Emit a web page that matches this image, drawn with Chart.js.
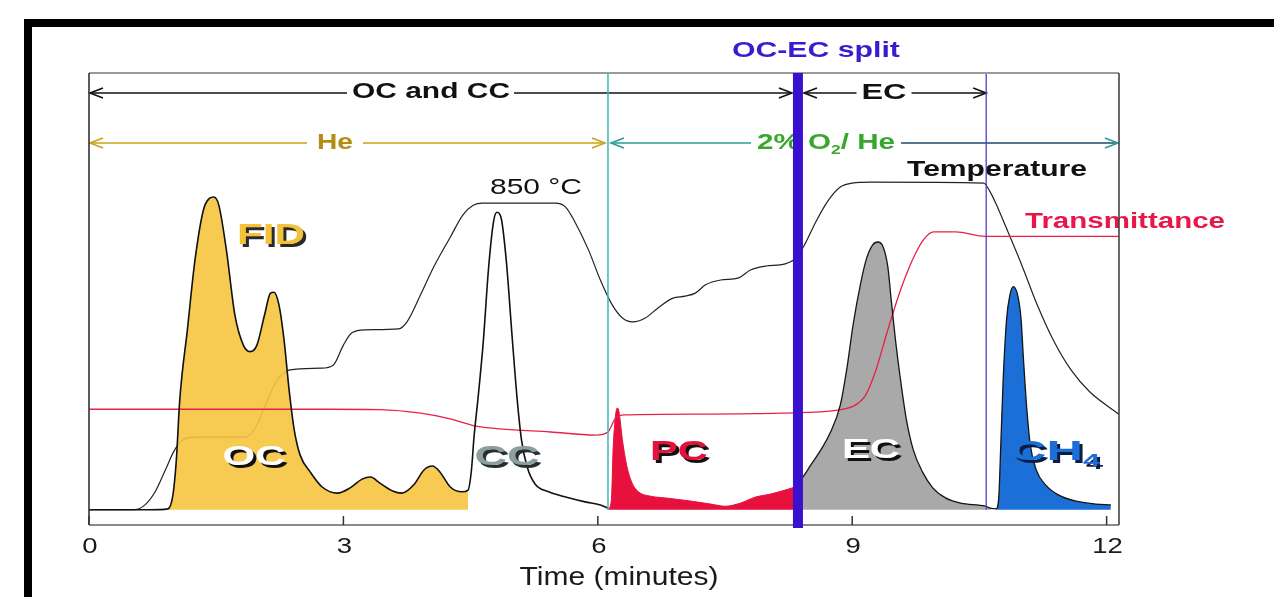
<!DOCTYPE html>
<html><head><meta charset="utf-8">
<script src="https://cdn.jsdelivr.net/npm/chart.js@4.4.1/dist/chart.umd.min.js"></script>
<style>html,body{margin:0;padding:0;background:#fff;}canvas{display:block;}</style>
</head><body>
<canvas id="c" width="1274" height="597"></canvas>
<script>
// ---------------- data (time in minutes, signals in arbitrary units) ----------------
const tickValues = [0, 3, 6, 9, 12];
const tickLabels = ['0', '3', '6', '9', '12'];
const axisTitle = 'Time (minutes)';

// FID signal, OC + CC part (He atmosphere)
const occcTime = [0, 0.72, 0.93, 0.99, 1.03, 1.07, 1.16, 1.25, 1.35, 1.42, 1.47, 1.53, 1.62, 1.72, 1.82, 1.90, 1.98, 2.07, 2.14, 2.18, 2.24, 2.30, 2.36, 2.42, 2.49, 2.61, 2.75, 2.93, 3.08, 3.22, 3.32, 3.43, 3.58, 3.69, 3.83, 3.95, 4.05, 4.14, 4.26, 4.40, 4.47, 4.51, 4.54, 4.59, 4.65, 4.71, 4.77, 4.81, 4.86, 4.92, 4.99, 5.05, 5.10, 5.17, 5.26, 5.42, 5.62, 5.85, 6.03, 6.12];
const occcSignal = [0, 0, 0.2, 3.4, 11.4, 25.1, 41.2, 57.2, 68.7, 71.3, 71.6, 69.8, 59.5, 44.6, 37.7, 36.2, 37.7, 44.6, 49.6, 49.8, 46.9, 38.9, 27.4, 18.3, 12.5, 8.6, 5.2, 3.8, 5.0, 7.0, 7.5, 6.1, 4.3, 3.8, 5.7, 9.1, 10.0, 8.6, 5.2, 4.1, 4.5, 9.1, 16.6, 26.0, 38.6, 54.9, 65.9, 68.1, 66.8, 57.2, 39.5, 25.1, 16.0, 9.6, 5.9, 4.1, 2.9, 1.8, 1.1, 0.4];
const ocStart = 0.93, ocEnd = 4.47;

// FID signal, PC part
const pcTime = [6.12, 6.16, 6.18, 6.21, 6.23, 6.25, 6.29, 6.34, 6.40, 6.48, 6.62, 6.80, 7.09, 7.33, 7.50, 7.68, 7.86, 8.04, 8.21, 8.36];
const pcSignal = [0, 2.2, 13.7, 21.7, 23.3, 22.4, 16.0, 10.2, 6.3, 4.1, 3.1, 2.7, 2.0, 1.3, 0.8, 1.5, 2.9, 3.6, 4.5, 5.4];

// FID signal, EC part
const ecTime = [8.36, 8.41, 8.51, 8.63, 8.74, 8.86, 8.94, 9.01, 9.10, 9.17, 9.24, 9.30, 9.36, 9.42, 9.46, 9.51, 9.57, 9.64, 9.72, 9.83, 9.95, 10.10, 10.28, 10.57, 10.64];
const ecSignal = [6.5, 7.3, 10.2, 13.7, 17.6, 24.0, 32.7, 42.3, 51.9, 57.6, 60.6, 61.3, 60.4, 55.6, 48.0, 38.9, 29.7, 20.5, 13.7, 8.6, 5.0, 2.7, 1.5, 0.8, 0.3];

// FID signal, CH4 calibration peak
const ch4Time = [10.70, 10.73, 10.75, 10.78, 10.82, 10.86, 10.90, 10.95, 10.99, 11.02, 11.06, 11.10, 11.17, 11.28, 11.43, 11.63, 11.87, 12.05];
const ch4Signal = [0.2, 3.4, 13.7, 29.7, 43.5, 49.2, 51.1, 49.2, 43.9, 34.3, 22.8, 14.8, 9.1, 5.7, 3.4, 2.0, 1.3, 1.1];

// Oven temperature
const tempTime = [0, 0.54, 0.66, 0.78, 0.90, 1.01, 1.11, 1.25, 1.84, 1.96, 2.08, 2.22, 2.37, 2.73, 2.88, 3.00, 3.10, 3.26, 3.65, 3.75, 3.91, 4.06, 4.26, 4.41, 4.53, 4.64, 5.50, 5.62, 5.73, 5.89, 6.03, 6.17, 6.29, 6.41, 6.56, 6.71, 6.88, 7.03, 7.15, 7.27, 7.45, 7.66, 7.80, 7.98, 8.21, 8.35, 8.45, 8.57, 8.72, 8.86, 9.00, 9.22, 10.55, 10.62, 10.72, 10.85, 11.00, 11.18, 11.38, 11.58, 11.80, 12.15];
const tempValue = [0, 0, 1.1, 4.1, 9.1, 13.7, 16.0, 16.6, 16.6, 18.7, 24.0, 29.7, 32.0, 32.4, 33.1, 37.7, 40.5, 41.2, 41.4, 43.0, 49.2, 55.4, 62.4, 67.5, 69.7, 70.2, 70.2, 69.3, 65.9, 59.5, 52.6, 46.9, 43.9, 43.0, 43.9, 46.2, 48.4, 48.9, 49.6, 51.5, 52.6, 53.1, 54.9, 55.8, 56.3, 57.9, 61.1, 65.9, 70.9, 73.9, 74.8, 75.0, 74.8, 73.0, 69.0, 63.0, 56.0, 47.0, 38.5, 32.0, 27.0, 21.8];

// Laser transmittance
const transTime = [0, 2.84, 3.43, 3.91, 4.26, 4.55, 4.85, 5.44, 5.97, 6.12, 6.21, 6.32, 7.21, 8.15, 8.86, 9.04, 9.16, 9.28, 9.42, 9.57, 9.71, 9.84, 9.96, 10.22, 10.57, 12.15];
const transValue = [23.0, 23.0, 22.9, 22.1, 20.8, 19.2, 18.5, 17.8, 17.1, 17.8, 21.0, 21.7, 21.9, 22.1, 22.9, 24.0, 26.3, 32.0, 41.2, 50.3, 57.2, 61.8, 63.6, 63.6, 62.6, 62.6];

// event times
const o2StartTime = 6.12;   // switch to 2% O2 / He
const splitTime = 8.36;     // OC-EC split
const ecEndTime = 10.58;    // end of EC / start of CH4

// ---------------- helpers ----------------
const zip = (t, v) => t.map((x, i) => ({ x, y: v[i] }));
const occcPts = zip(occcTime, occcSignal);
const ocFillPts = occcPts.filter(p => p.x >= ocStart && p.x <= ocEnd);
const pcPts = zip(pcTime, pcSignal);
const ecPts = zip(ecTime, ecSignal);
const ch4Pts = zip(ch4Time, ch4Signal);
const fidLatePts = ecPts.concat(ch4Pts);
const FONT = '"Liberation Sans", Arial, Helvetica, sans-serif';

function drawLabel(c, parts, cx, cy, o) {
  c.save();
  const w0 = o.weight || 'bold';
  const mainF = `${w0} ${o.size}px ${FONT}`;
  const subF = `${w0} ${Math.round(o.size * 0.6)}px ${FONT}`;
  let total = 0; const ws = [];
  parts.forEach(p => { c.font = p.sub ? subF : mainF; const w = c.measureText(p.t).width; ws.push(w); total += w; });
  const sx = o.width ? o.width / total : (o.sx || 1);
  c.translate(cx, cy); c.scale(sx, 1);
  c.textBaseline = 'middle'; c.textAlign = 'left';
  const draw = (color, dx, dy) => {
    let x = -total / 2;
    parts.forEach((p, i) => {
      c.font = p.sub ? subF : mainF;
      c.fillStyle = color;
      c.fillText(p.t, x + dx / sx, (p.sub ? o.size * 0.32 : 0) + dy);
      x += ws[i];
    });
  };
  if (o.shadow) draw(o.shadow, o.sdx || 2, o.sdy || 2);
  draw(o.color, 0, 0);
  c.restore();
}
function seg(c, x1, y1, x2, y2, color, w) {
  c.save(); c.strokeStyle = color; c.lineWidth = w; c.beginPath(); c.moveTo(x1, y1); c.lineTo(x2, y2); c.stroke(); c.restore();
}
function head(c, x, y, dir, color) {
  c.save(); c.strokeStyle = color; c.lineWidth = 1.6; c.beginPath();
  c.moveTo(x - dir * 13, y - 5); c.lineTo(x, y); c.lineTo(x - dir * 13, y + 5); c.stroke(); c.restore();
}

const annot = {
  id: 'annot',
  beforeDraw(chart) {
    const c = chart.ctx;
    c.save();
    c.fillStyle = '#fff'; c.fillRect(0, 0, chart.width, chart.height);
    c.fillStyle = '#000';
    c.fillRect(24, 19, chart.width - 24, 8);
    c.fillRect(24, 19, 8, chart.height - 19);
    c.restore();
  },
  afterDatasetsDraw(chart) {
    const c = chart.ctx, xs = chart.scales.x, ys = chart.scales.y, a = chart.chartArea;
    const X = v => xs.getPixelForValue(v);
    const base = ys.getPixelForValue(0);

    // in-plot texts
    drawLabel(c, [{ t: 'Temperature' }], 997, 170, { size: 22, width: 180, color: '#111' });
    drawLabel(c, [{ t: '850 °C' }], 536, 188, { size: 22, weight: 'normal', width: 92, color: '#111' });
    drawLabel(c, [{ t: 'Transmittance' }], 1125, 222, { size: 22, width: 200, color: '#e8174a' });
    drawLabel(c, [{ t: 'FID' }], 271, 236, { size: 30, width: 68, color: '#f3c23a', shadow: '#2a2a2a', sdx: 3, sdy: 3 });
    drawLabel(c, [{ t: 'OC' }], 254, 457, { size: 28, width: 63, color: '#ffffff', shadow: '#111', sdx: 3, sdy: 3 });
    drawLabel(c, [{ t: 'CC' }], 507, 457, { size: 28, width: 65, color: '#8e9d9d', shadow: '#24302f', sdx: 3, sdy: 3 });
    drawLabel(c, [{ t: 'PC' }], 679, 452, { size: 28, width: 58, color: '#e5103d', shadow: '#111', sdx: 3, sdy: 3 });
    drawLabel(c, [{ t: 'EC' }], 871, 450, { size: 28, width: 58, color: '#ffffff', shadow: '#111', sdx: 3, sdy: 3 });
    drawLabel(c, [{ t: 'CH' }, { t: '4', sub: true }], 1055, 452, { size: 28, width: 90, color: '#1d6fd8', shadow: '#0b1d45', sdx: 3, sdy: 3 });

    // arrow rows
    const r1 = a.top + 20, r2 = a.top + 70;
    const t1 = { cx: 431, w: 158 }, t2 = { cx: 884, w: 45 }, t3 = { cx: 335, w: 36 }, t4 = { cx: 826, w: 138 };
    drawLabel(c, [{ t: 'OC and CC' }], t1.cx, r1 - 1, { size: 22, width: t1.w, color: '#111' });
    drawLabel(c, [{ t: 'EC' }], t2.cx, r1, { size: 22, width: t2.w, color: '#111' });
    drawLabel(c, [{ t: 'He' }], t3.cx, r2, { size: 22, width: t3.w, color: '#b58d12' });
    drawLabel(c, [{ t: '2% O' }, { t: '2', sub: true }, { t: '/ He' }], t4.cx, r2, { size: 22, width: t4.w, color: '#38a82c' });

    const black = '#111', gold = '#c9a31a', teal = '#2a9d9d', navy = '#1e4a70';
    seg(c, X(0) + 1, r1, t1.cx - t1.w / 2 - 5, r1, black, 1.5); head(c, X(0) + 1, r1, -1, black);
    seg(c, t1.cx + t1.w / 2 + 4, r1, X(splitTime) - 6, r1, black, 1.5); head(c, X(splitTime) - 6, r1, 1, black);
    seg(c, X(splitTime) + 6, r1, t2.cx - t2.w / 2 - 5, r1, black, 1.5); head(c, X(splitTime) + 6, r1, -1, black);
    seg(c, t2.cx + t2.w / 2 + 5, r1, X(ecEndTime), r1, black, 1.5); head(c, X(ecEndTime), r1, 1, black);
    seg(c, X(0) + 1, r2, t3.cx - t3.w / 2 - 10, r2, gold, 1.5); head(c, X(0) + 1, r2, -1, gold);
    seg(c, t3.cx + t3.w / 2 + 10, r2, X(o2StartTime) - 3, r2, gold, 1.5); head(c, X(o2StartTime) - 3, r2, 1, gold);
    seg(c, X(o2StartTime) + 3, r2, t4.cx - t4.w / 2 - 6, r2, teal, 1.5); head(c, X(o2StartTime) + 3, r2, -1, teal);
    seg(c, t4.cx + t4.w / 2 + 6, r2, a.right - 1, r2, navy, 1.5); head(c, a.right - 1, r2, 1, teal);

    // vertical event lines
    seg(c, X(o2StartTime), a.top, X(o2StartTime), base, '#3fb3b3', 1.5);
    seg(c, X(ecEndTime), a.top, X(ecEndTime), base, '#5a35d0', 1.3);

    // frame box
    seg(c, a.left, a.top, a.right, a.top, '#9a9a9a', 2);
    seg(c, a.left, a.bottom, a.right, a.bottom, '#8a8a8a', 2);
    seg(c, a.left, a.top, a.left, a.bottom, '#333', 1.6);
    seg(c, a.right, a.top, a.right, a.bottom, '#444', 1.6);

    // OC-EC split bar
    c.save(); c.fillStyle = '#3a10cf';
    c.fillRect(X(splitTime) - 5, a.top, 10, a.bottom + 3 - a.top); c.restore();
    drawLabel(c, [{ t: 'OC-EC split' }], X(splitTime) + 18, 51, { size: 22, width: 168, color: '#3b1ccc' });

    // ticks & tick labels
    tickValues.forEach((v, i) => {
      const px = X(v);
      seg(c, px, a.bottom, px, a.bottom - 9, '#333', 1.5);
      drawLabel(c, [{ t: tickLabels[i] }], px + 1, a.bottom + 22, { size: 22, weight: 'normal', sx: 1.25, color: '#1a1a1a' });
    });
    drawLabel(c, [{ t: axisTitle }], 619, a.bottom + 53, { size: 25, weight: 'normal', width: 199, color: '#1a1a1a' });
  }
};

const common = { pointRadius: 0, cubicInterpolationMode: 'monotone', spanGaps: false };
new Chart(document.getElementById('c'), {
  type: 'line',
  data: {
    datasets: [
      Object.assign({ label: 'FID OC/CC', data: occcPts, borderColor: '#111', borderWidth: 1.6, fill: false, order: 1 }, common),
      Object.assign({ label: 'FID EC/CH4', data: fidLatePts, borderColor: '#151515', borderWidth: 1.3, fill: false, order: 1 }, common),
      Object.assign({ label: 'Transmittance', data: zip(transTime, transValue), borderColor: '#e8204a', borderWidth: 1.3, fill: false, order: 2 }, common),
      Object.assign({ label: 'OC', data: ocFillPts, borderWidth: 0, borderColor: 'rgba(0,0,0,0)', backgroundColor: 'rgba(246,197,62,0.9)', fill: { value: 0 }, order: 3 }, common),
      Object.assign({ label: 'PC', data: pcPts, borderWidth: 1, borderColor: '#e8103c', backgroundColor: '#e8103c', fill: { value: 0 }, order: 3 }, common),
      Object.assign({ label: 'EC', data: ecPts, borderWidth: 0, borderColor: 'rgba(0,0,0,0)', backgroundColor: '#a9a9a9', fill: { value: 0 }, order: 3 }, common),
      Object.assign({ label: 'CH4', data: ch4Pts, borderWidth: 0, borderColor: 'rgba(0,0,0,0)', backgroundColor: '#1b6fd6', fill: { value: 0 }, order: 3 }, common),
      Object.assign({ label: 'Temperature', data: zip(tempTime, tempValue), borderColor: '#222', borderWidth: 1.2, fill: false, order: 4 }, common)
    ]
  },
  options: {
    responsive: false,
    animation: false,
    layout: { padding: { left: 89, right: 155, top: 73, bottom: 72 } },
    scales: {
      x: { type: 'linear', min: 0, max: 12.146, display: false },
      y: { type: 'linear', min: -3.5, max: 100, display: false }
    },
    plugins: { legend: { display: false }, tooltip: { enabled: false } }
  },
  plugins: [annot]
});
</script>
</body></html>
